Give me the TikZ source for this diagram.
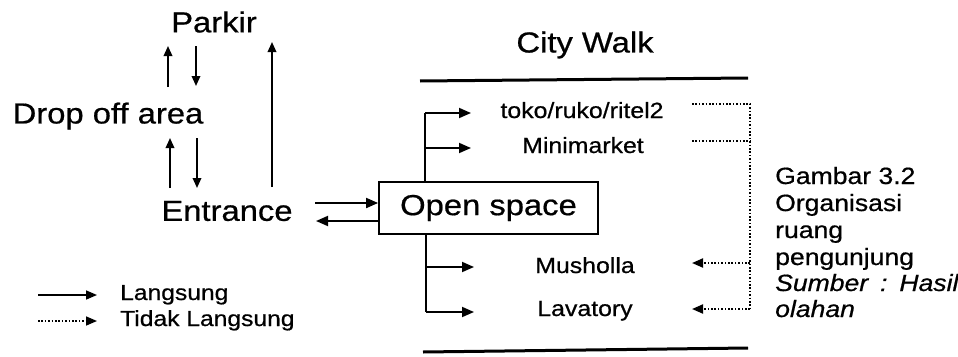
\documentclass[tikz,border=0pt]{standalone}
\usepackage{fontspec}
\setmainfont{Liberation Sans}[FakeBold=0.6]
\usetikzlibrary{arrows.meta}
\newcommand{\widetxt}[1]{\scalebox{1.13}[1]{#1}}
\tikzset{
  bigtxt/.style={inner sep=0pt, font=\fontsize{29}{31}\selectfont},
  midtxt/.style={inner sep=0pt, anchor=base, font=\fontsize{22}{24}\selectfont},
  legtxt/.style={inner sep=0pt, anchor=base west, font=\fontsize{21.8}{24}\selectfont},
  captxt/.style={inner sep=0pt, anchor=base west, font=\fontsize{23.5}{26}\selectfont},
  arr/.style={line width=1.8pt, -{Triangle[length=12pt,width=10pt]}},
  varr/.style={line width=1.8pt, -{Triangle[length=10pt,width=8.5pt]}},
  sline/.style={line width=1.8pt},
  dotline/.style={line width=2pt, dash pattern=on 1.6pt off 1.8pt},
  darr/.style={dotline, -{Triangle[length=11pt,width=9pt]}},
  wall/.style={line width=3pt},
  openbox/.style={draw, line width=1.8pt, minimum width=219pt, minimum height=52pt, inner sep=0pt, font=\fontsize{29}{31}\selectfont}
}
\begin{document}
\begin{tikzpicture}[x=1pt,y=-1pt]
\useasboundingbox[fill=white] (0,0) rectangle (958,356);
% left column
\node[bigtxt] (parkir) at (214,22) {\widetxt{Parkir}};
\node[bigtxt] (drop) at (108,116) {\widetxt{Drop off area}};
\node[bigtxt] (entr) at (227,211) {\widetxt{Entrance}};
\coordinate (a1s) at (168,87); \coordinate (a1e) at (168,46);
\coordinate (a2s) at (196,46); \coordinate (a2e) at (196,86);
\coordinate (a3s) at (170,188); \coordinate (a3e) at (170,138);
\coordinate (a4s) at (197,138); \coordinate (a4e) at (197,188);
\coordinate (a5s) at (272,187); \coordinate (a5e) at (272,42);
\draw[varr] (a1s) -- (a1e);
\draw[varr] (a2s) -- (a2e);
\draw[varr] (a3s) -- (a3e);
\draw[varr] (a4s) -- (a4e);
\draw[varr] (a5s) -- (a5e);
% open space
\node[openbox] (open) at (488.5,208) {\widetxt{Open space}};
\coordinate (e1) at (315,203);
\coordinate (e2) at (316,221);
\draw[arr] (e1) -- (e1 -| open.west);
\draw[arr] (open.west |- e2) -- (e2);
% city walk
\node[bigtxt] (city) at (585,45) {\widetxt{City Walk}};
\coordinate (w1a) at (420,81); \coordinate (w1b) at (748,78);
\coordinate (w2a) at (423,352); \coordinate (w2b) at (748,348);
\draw[wall] (w1a) -- (w1b);
\draw[wall] (w2a) -- (w2b);
% destinations
\node[midtxt] (toko) at (582,118) {\widetxt{toko/ruko/ritel2}};
\node[midtxt] (mini) at (583,153) {\widetxt{Minimarket}};
\node[midtxt] (mush) at (585,273) {\widetxt{Musholla}};
\node[midtxt] (lav) at (585,316) {\widetxt{Lavatory}};
% solid branches
\coordinate (bt) at (425,113);
\coordinate (bb) at (426,312);
\draw[sline] (bt |- open.north) -- (bt);
\draw[arr] (bt) -- (471,113);
\draw[arr] (425,148) -- (471,148);
\draw[sline] (bb |- open.south) -- (bb);
\draw[arr] (426,267) -- (474,267);
\draw[arr] (bb) -- (474,312);
% dotted connections
\coordinate (d1) at (692,104); \coordinate (d2) at (692,141);
\coordinate (d3) at (692,263); \coordinate (d4) at (692,309);
\coordinate (v1) at (750,104); \coordinate (v2) at (750,141);
\coordinate (v3) at (750,263); \coordinate (v4) at (750,309);
\draw[dotline] (d1) -- (v1) -- (v4);
\draw[dotline] (d2) -- (v2);
\draw[darr] (v3) -- (d3);
\draw[darr] (v4) -- (d4);
% caption
\node[captxt] (g1) at (775,184) {\widetxt{Gambar 3.2}};
\node[captxt] (g2) at (775,211) {\widetxt{Organisasi}};
\node[captxt] (g3) at (775,238) {\widetxt{ruang}};
\node[captxt] (g4) at (775,265) {\widetxt{pengunjung}};
\node[captxt] (g5) at (775,291) {\widetxt{\itshape Sumber\hspace{0.45em}:\hspace{0.45em}Hasil}};
\node[captxt] (g6) at (775,317) {\widetxt{\itshape olahan}};
% legend
\coordinate (l1a) at (38,295); \coordinate (l1b) at (97,295);
\coordinate (l2a) at (38,321); \coordinate (l2b) at (97,321);
\draw[line width=1.6pt, -{Triangle[length=11pt,width=9pt]}] (l1a) -- (l1b);
\draw[dotline, line width=1.6pt, -{Triangle[length=11pt,width=9pt]}] (l2a) -- (l2b);
\node[legtxt] (lg1) at (120,300) {\widetxt{Langsung}};
\node[legtxt] (lg2) at (120,326) {\widetxt{Tidak Langsung}};
\end{tikzpicture}
\end{document}
